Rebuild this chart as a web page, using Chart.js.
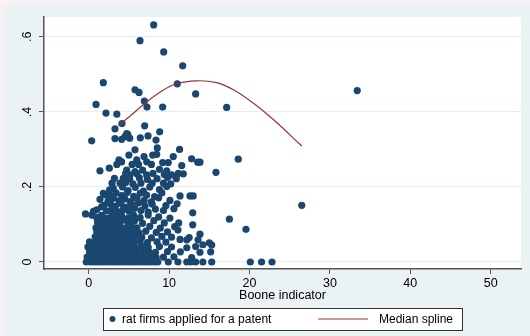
<!DOCTYPE html>
<html lang="en">
<head>
<meta charset="UTF-8" />
<title>Patent applications and the Boone indicator</title>
<script src="https://cdn.jsdelivr.net/npm/chart.js"></script>
<style>
  body { margin: 0; background: #f9f1f3; }
  #wrap { width: 530px; height: 336px; }
</style>
</head>
<body>
<div id="wrap"><canvas id="chart" width="530" height="336"></canvas></div>
<script>
  // axis ticks
  const xTicks = [0, 10, 20, 30, 40, 50];
  const yTicks = [0, 0.2, 0.4, 0.6];
  const yTickLabels = ["0", ".2", ".4", ".6"];

  // [Boone indicator, rat firms applied for a patent]
  const patentPoints = [
    [8.08,0.632],[6.38,0.590],[9.33,0.560],[11.69,0.523],[1.82,0.478],[11.02,0.475],
    [5.76,0.459],[6.26,0.452],[13.3,0.448],[33.4,0.457],[6.92,0.429],[0.91,0.420],
    [7.25,0.413],[9.2,0.413],[17.16,0.412],[2.15,0.397],[3.5,0.394],[4.14,0.369],
    [6.96,0.363],[3.27,0.355],[8.83,0.347],[4.85,0.340],[4.73,0.342],[7.38,0.336],
    [4.51,0.334],[6.42,0.331],[5.1,0.330],[3.27,0.329],[4.1,0.327],[8.37,0.325],
    [0.37,0.323],[8.53,0.304],[11.3,0.300],[5.76,0.299],
    [5.0,0.285],[7.96,0.285],[8.46,0.287],[10.52,0.281],[6.88,0.281],[18.6,0.274],
    [12.8,0.275],[3.77,0.272],[5.97,0.272],[7.21,0.267],[4.1,0.267],[13.56,0.266],[13.84,0.266],
    [9.2,0.265],[9.9,0.265],[11.57,0.257],[3.5,0.26],[5.4,0.26],[6.2,0.26],[7.8,0.26],
    [2.56,0.25],[1.4,0.243],[4.73,0.245],[5.76,0.241],[6.7,0.245],[8.8,0.247],[9.7,0.243],
    [15.83,0.239],[5.14,0.232],[7.21,0.232],[10.32,0.232],[11.14,0.236],[11.77,0.235],
    [8.0,0.236],[9.4,0.233],[6.0,0.235],[4.6,0.236],
    [3.2,0.223],[4.3,0.223],[5.1,0.222],[6.3,0.224],[7.3,0.22],[8.5,0.222],[9.8,0.225],[10.9,0.222],
    [2.9,0.21],[3.9,0.21],[4.6,0.212],[5.5,0.208],[6.5,0.21],[7.9,0.21],[9.3,0.21],[10.2,0.208],
    [3.06,0.197],[2.6,0.192],[4.2,0.2],[4.9,0.19],[5.8,0.199],[6.8,0.189],[7.6,0.2],
    [8.8,0.193],[9.7,0.201],
    [2.03,0.179],[1.82,0.183],[2.7,0.176],[3.4,0.184],[4.1,0.177],[4.8,0.185],[5.6,0.175],
    [6.4,0.183],[7.2,0.178],[8.2,0.174],[9.1,0.184],[11.36,0.176],[12.6,0.176],[13.0,0.176],
    [1.4,0.167],[2.4,0.162],[3.1,0.17],[3.8,0.163],[4.5,0.168],[5.2,0.161],[6.0,0.169],
    [6.9,0.164],[7.8,0.16],[8.7,0.171],[10.1,0.164],
    [1.6,0.147],[1.9,0.151],[2.7,0.155],[3.3,0.148],[4.0,0.156],[4.7,0.146],[5.4,0.152],
    [6.2,0.157],[7.0,0.149],[7.9,0.154],[9.6,0.15],[11.0,0.155],[26.5,0.151],
    [1.0,0.139],[2.2,0.136],[2.9,0.142],[3.6,0.134],[4.3,0.14],[5.0,0.135],[5.7,0.143],
    [6.5,0.137],[7.4,0.133],[8.3,0.141],[9.3,0.137],[10.6,0.142],[12.94,0.131],
    [-0.4,0.128],[0.37,0.125],[0.6,0.135],
    [1.0,0.118],[1.6,0.124],[2.3,0.116],[2.9,0.125],[3.5,0.119],[4.1,0.123],[4.9,0.117],
    [5.6,0.124],[6.4,0.118],[7.4,0.125],[8.7,0.12],[10.1,0.117],[17.5,0.114],
    [1.1,0.105],[1.7,0.11],[2.3,0.103],[2.9,0.109],[3.5,0.104],[4.2,0.111],[4.9,0.104],
    [5.7,0.109],[6.7,0.103],[8.1,0.11],[9.4,0.104],[11.2,0.104],
    [0.9,0.091],[1.5,0.096],[2.1,0.09],[2.7,0.095],[3.3,0.091],[3.9,0.096],[4.6,0.09],
    [5.3,0.096],[6.0,0.091],[7.6,0.095],[8.9,0.09],[10.7,0.094],[12.94,0.099],[19.56,0.087],
    [1.0,0.08],[1.6,0.081],[2.2,0.078],[2.8,0.082],[3.4,0.079],[4.0,0.083],[4.7,0.077],
    [5.4,0.081],[6.2,0.078],[7.1,0.082],[8.4,0.079],[9.8,0.08],[11.1,0.085],[13.84,0.074],
    [0.8,0.067],[1.4,0.066],[2.0,0.068],[2.6,0.065],[3.2,0.069],[3.8,0.066],[4.4,0.068],
    [5.1,0.065],[5.8,0.069],[6.6,0.066],[7.8,0.064],[9.1,0.068],[10.3,0.066],[12.5,0.065],
    [0.1,0.054],[0.8,0.053],[1.4,0.055],[2.0,0.052],[2.6,0.056],[3.2,0.053],[3.8,0.055],
    [4.4,0.052],[5.0,0.056],[5.7,0.053],[6.4,0.055],[7.3,0.052],[8.5,0.054],[9.6,0.053],
    [11.36,0.06],[12.2,0.059],[13.6,0.059],[14.2,0.046],[15.0,0.051],[15.3,0.045],
    [-0.1,0.04],[0.5,0.041],[1.1,0.039],[1.7,0.042],[2.3,0.039],[2.9,0.041],[3.5,0.038],
    [4.1,0.042],[4.7,0.039],[5.3,0.041],[5.9,0.038],[6.6,0.042],[7.4,0.039],[8.8,0.041],
    [10.3,0.04],[12.2,0.038],[13.3,0.041],
    [0.1,0.027],[0.7,0.026],[1.3,0.028],[1.9,0.027],[2.5,0.026],[3.1,0.028],[3.7,0.027],
    [4.3,0.026],[4.9,0.028],[5.5,0.027],[6.1,0.026],[6.8,0.028],[7.5,0.027],[8.3,0.026],
    [9.8,0.028],[11.4,0.027],[13.84,0.026],[15.17,0.027],
    [-0.2,0.013],[0.4,0.014],[1.0,0.012],[1.6,0.013],[2.2,0.014],[2.8,0.012],[3.4,0.013],
    [4.0,0.014],[4.6,0.012],[5.2,0.013],[5.8,0.014],[6.4,0.012],[7.0,0.013],[7.7,0.014],
    [8.4,0.012],[9.3,0.013],[10.6,0.014],[12.8,0.012],
    [-0.3,0],[0.2,0],[0.6,0],[1.0,0],[1.4,0],[1.8,0],[2.2,0],[2.6,0],[3.0,0],[3.4,0],
    [3.8,0],[4.2,0],[4.6,0],[5.0,0],[5.4,0],[5.8,0],[6.2,0],[6.6,0],[7.0,0],[7.4,0],
    [7.8,0],[8.2,0],[8.6,0],[9.9,0],[11.1,0],[12.2,0],[12.7,0],[13.3,0],[14.2,0],
    [15.3,0],[20.1,0],[21.5,0],[22.8,0]
  ];

  // median spline
  const splineX = [3.68, 5.2, 6.8, 8.9, 10.9, 13.4, 15.9, 18.0, 20.5, 23.0, 26.5];
  const splineY = [0.363, 0.390, 0.419, 0.453, 0.475, 0.483, 0.478, 0.459, 0.423, 0.379, 0.309];

  const navy = "#1a476f";
  const maroon = "#90353b";
  const axisGrey = "#555555";
  const fontFamily = '"Liberation Sans", Arial, Helvetica, sans-serif';

  Chart.defaults.font.family = fontFamily;
  Chart.defaults.color = "#000";

  // Stata-like background: graph region light blue-grey, plot region white
  const backdrop = {
    id: "backdrop",
    beforeDraw(chart) {
      const { ctx, chartArea: a } = chart;
      ctx.save();
      ctx.fillStyle = "#f9f1f3";
      ctx.fillRect(0, 0, chart.width, chart.height);
      ctx.fillStyle = "#eaf2f3";
      ctx.fillRect(4, 5, chart.width - 4, chart.height - 5);
      ctx.fillStyle = "#ffffff";
      ctx.fillRect(a.left, a.top, a.right - a.left, a.bottom - a.top);
      ctx.restore();
    }
  };

  // boxed legend under the axis title
  const boxLegend = {
    id: "boxLegend",
    afterDraw(chart) {
      const ctx = chart.ctx;
      const ds = chart.data.datasets;
      const y = 319;
      ctx.save();
      ctx.fillStyle = "#fff";
      ctx.fillRect(103, 308, 359, 22);
      ctx.strokeStyle = "#333";
      ctx.lineWidth = 1;
      ctx.strokeRect(103.5, 308.5, 359, 22);
      ctx.fillStyle = navy;
      ctx.beginPath();
      ctx.arc(112.5, y, 3, 0, Math.PI * 2);
      ctx.fill();
      ctx.strokeStyle = maroon;
      ctx.lineWidth = 1.2;
      ctx.beginPath();
      ctx.moveTo(318, y);
      ctx.lineTo(368, y);
      ctx.stroke();
      ctx.fillStyle = "#000";
      ctx.font = "12px " + fontFamily;
      ctx.textBaseline = "middle";
      ctx.fillText(ds[1].label, 122, y + 0.5);
      ctx.fillText(ds[0].label, 379, y + 0.5);
      ctx.restore();
    }
  };

  new Chart(document.getElementById("chart"), {
    type: "scatter",
    data: {
      datasets: [
        {
          type: "line",
          label: "Median spline",
          data: splineX.map((x, i) => ({ x: x, y: splineY[i] })),
          borderColor: maroon,
          borderWidth: 1.2,
          pointRadius: 0,
          tension: 0.4,
          fill: false,
          order: 0
        },
        {
          label: "rat firms applied for a patent",
          data: patentPoints.map(p => ({ x: p[0], y: p[1] })),
          pointRadius: 3.6,
          pointBackgroundColor: navy,
          pointBorderColor: navy,
          pointBorderWidth: 0,
          order: 1
        }
      ]
    },
    options: {
      responsive: false,
      animation: false,
      devicePixelRatio: 1,
      layout: { padding: { left: 0, top: 17, right: 9, bottom: 27 } },
      plugins: { legend: { display: false }, tooltip: { enabled: false } },
      scales: {
        x: {
          type: "linear",
          min: -5.56,
          max: 53.77,
          afterBuildTicks: s => { s.ticks = xTicks.map(v => ({ value: v })); },
          afterFit: s => { s.height = 40; },
          grid: { drawOnChartArea: false, tickLength: 5, tickColor: axisGrey, tickWidth: 1 },
          border: { color: axisGrey, width: 1.5 },
          ticks: { padding: 2, maxRotation: 0, font: { size: 12.5 }, color: "#000" },
          title: {
            display: true,
            text: "Boone indicator",
            font: { size: 12.5 },
            color: "#000",
            padding: { top: 0, bottom: 6 }
          }
        },
        y: {
          type: "linear",
          min: -0.0187,
          max: 0.653,
          afterBuildTicks: s => { s.ticks = yTicks.map(v => ({ value: v })); },
          afterFit: s => { s.width = 44; },
          grid: { color: "#e6eef0", lineWidth: 1, tickLength: 5, tickColor: axisGrey, tickWidth: 1 },
          border: { color: axisGrey, width: 1.5 },
          ticks: {
            minRotation: 90,
            maxRotation: 90,
            crossAlign: "center",
            padding: 6,
            font: { size: 12.5 },
            color: "#000",
            callback: v => yTickLabels[yTicks.indexOf(v)]
          }
        }
      }
    },
    plugins: [backdrop, boxLegend]
  });
</script>
</body>
</html>
